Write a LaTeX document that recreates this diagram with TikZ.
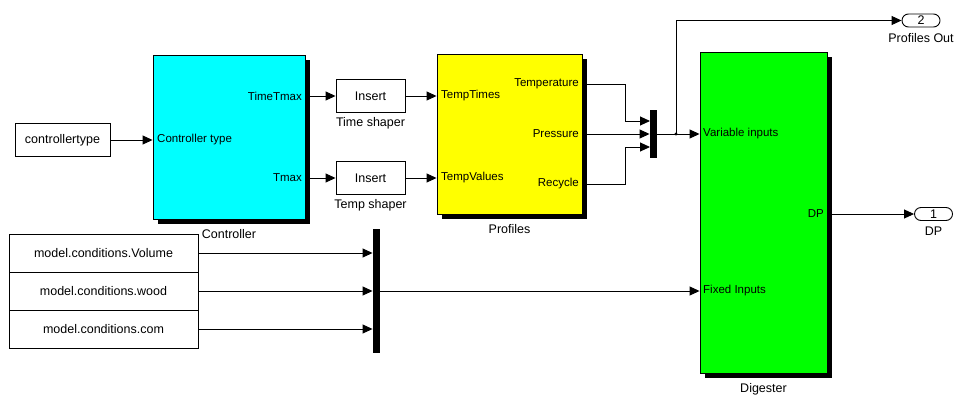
\documentclass[tikz,border=0pt]{standalone}
\usepackage{fontspec}
\setmainfont{Liberation Sans}
\usetikzlibrary{positioning,arrows.meta,calc,shadows}
\definecolor{CtrlCyan}{RGB}{0,255,255}
\definecolor{ProfYellow}{RGB}{255,255,0}
\definecolor{DigGreen}{RGB}{0,255,0}
\tikzset{
  wire/.style={-{Triangle[length=10pt,width=9pt]},line width=0.9pt},
  blk/.style={draw,line width=0.9pt,inner sep=0pt,font=\fontsize{12.5}{15}\selectfont},
  subsys/.style={blk,drop shadow={shadow xshift=5pt,shadow yshift=-5pt,fill=black,opacity=1}},
  muxbar/.style={fill=black,draw=none,inner sep=0pt,minimum width=7.5pt},
  outport/.style={blk,rounded corners=6.5pt,minimum width=38pt,minimum height=13pt},
  port/.style={inner sep=0pt,font=\fontsize{11.5}{13}\selectfont},
  caption/.style={inner sep=0pt,font=\fontsize{12.5}{15}\selectfont}
}
\begin{document}
\begin{tikzpicture}[x=1pt,y=-1pt]
  \useasboundingbox (0,0) rectangle (957,396);
  % sources
  \node[blk,minimum width=95pt,minimum height=33pt] (ctype) at (62.5,140) {controllertype};
  \node[blk,minimum width=189pt,minimum height=38pt] (volume) at (103.5,253) {model.conditions.Volume};
  \node[blk,minimum width=189pt,minimum height=38pt] (wood) at (103.5,291) {model.conditions.wood};
  \node[blk,minimum width=189pt,minimum height=38pt] (com) at (103.5,329) {model.conditions.com};
  % controller
  \node[subsys,fill=CtrlCyan,minimum width=152pt,minimum height=164pt] (ctrl) at (229,137) {};
  \node[caption,below=10pt of ctrl] {Controller};
  \node[port,anchor=west] (ctin) at (157,140) {Controller type};
  \node[port,anchor=east] (ttmax) at (302,96) {TimeTmax};
  \node[port,anchor=east] (tmax) at (302,178) {Tmax};
  % shapers
  \node[blk,minimum width=69pt,minimum height=33pt] (tshape) at (370.5,96) {Insert};
  \node[caption,below=4pt of tshape] {Time shaper};
  \node[blk,minimum width=69pt,minimum height=33pt] (vshape) at (370.5,178) {Insert};
  \node[caption,below=4pt of vshape] {Temp shaper};
  % profiles
  \node[subsys,fill=ProfYellow,minimum width=145pt,minimum height=160pt] (prof) at (509.5,134) {};
  \node[caption,below=10pt of prof] {Profiles};
  \node[port,anchor=west] (ptimes) at (441,96) {TempTimes};
  \node[port,anchor=west] (pvalues) at (441,178) {TempValues};
  \node[port,anchor=east] (ptemp) at (579,84) {Temperature};
  \node[port,anchor=east] (ppres) at (579,134) {Pressure};
  \node[port,anchor=east] (precy) at (579,184) {Recycle};
  % muxes
  \node[muxbar,minimum height=48pt] (mux1) at (653.5,134) {};
  \node[muxbar,minimum height=124pt] (mux2) at (376.5,291) {};
  \coordinate (m1a) at (650,121);
  \coordinate (m1c) at (650,147);
  % digester
  \node[subsys,fill=DigGreen,minimum width=127pt,minimum height=321pt] (dig) at (763.5,212.5) {};
  \node[caption,below=10pt of dig] {Digester};
  \node[port,anchor=west] (varin) at (703,134) {Variable inputs};
  \node[port,anchor=west] (fixin) at (703,291) {Fixed Inputs};
  \node[port,anchor=east] (pdp) at (824,214) {DP};
  % outports
  \node[outport] (out2) at (921,20.5) {2};
  \node[caption,below=6pt of out2] {Profiles Out};
  \node[outport] (out1) at (933.5,214) {1};
  \node[caption,below=6pt of out1] {DP};
  \coordinate (junc) at (676,134);
  % wiring
  \draw[wire] (ctype) -- (ctrl.west |- ctype);
  \draw[wire] (ctrl.east |- ttmax) -- (tshape);
  \draw[wire] (ctrl.east |- tmax) -- (vshape);
  \draw[wire] (tshape) -- (prof.west |- tshape);
  \draw[wire] (vshape) -- (prof.west |- vshape);
  \draw[wire] (prof.east |- ptemp) -- ++(43,0) |- (m1a);
  \draw[wire] (prof.east |- ppres) -- (mux1.west |- ppres);
  \draw[wire] (prof.east |- precy) -- ++(43,0) |- (m1c);
  \draw[wire] (mux1) -- (dig.west |- mux1);
  \fill (junc) circle (1.6pt);
  \draw[wire] (junc) |- (out2);
  \draw[wire] (volume) -- (mux2.west |- volume);
  \draw[wire] (wood) -- (mux2.west |- wood);
  \draw[wire] (com) -- (mux2.west |- com);
  \draw[wire] (mux2) -- (dig.west |- mux2);
  \draw[wire] (dig.east |- pdp) -- (out1);
\end{tikzpicture}
\end{document}
